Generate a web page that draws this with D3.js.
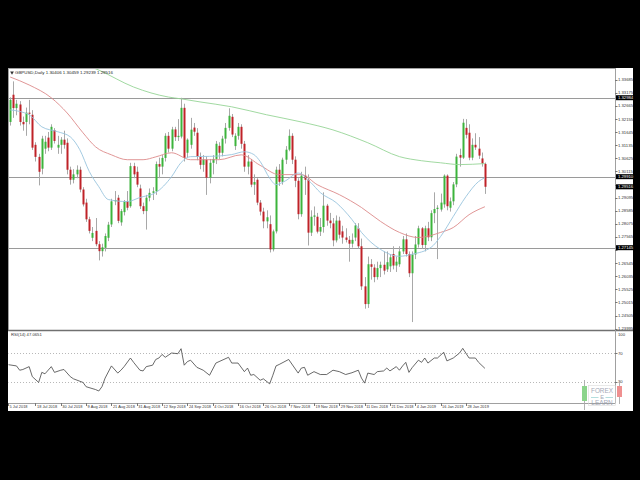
<!DOCTYPE html>
<html><head><meta charset="utf-8">
<script src="https://cdn.jsdelivr.net/npm/d3@7"></script>
<style>
html,body{margin:0;padding:0;background:#000;overflow:hidden}
svg{display:block}
text{font-family:"Liberation Sans",Arial,sans-serif;}
</style></head><body>
<svg id="c" width="640" height="480"></svg>
<script>
// ---------------- DATA ----------------
const chartTitle = "GBPUSD,Daily  1.30406 1.30459 1.29239 1.29516";
const rsiTitle = "RSI(14) 47.0651";

const opens = [1.3195,1.3204,1.3310,1.3258,1.3272,1.3204,1.3204,1.3240,1.3232,1.3115,
1.3068,1.3022,1.3100,1.3143,1.3104,1.3172,1.3104,1.3115,1.3135,1.3123,
1.3018,1.2979,1.3000,1.3018,1.2941,1.2890,1.2825,1.2753,1.2780,1.2728,
1.2701,1.2714,1.2753,1.2805,1.2895,1.2909,1.2813,1.2853,1.2895,1.2876,
1.3032,1.3010,1.2945,1.2876,1.2857,1.2909,1.2928,1.2934,1.3040,1.3030,
1.3064,1.3150,1.3100,1.3175,1.3145,1.3147,1.3259,1.3084,1.3115,1.3182,
1.3162,1.3068,1.3037,1.3057,1.2987,1.3045,1.3060,1.3111,1.3084,1.3139,
1.3181,1.3224,1.3110,1.3150,1.3185,1.3119,1.3030,1.3050,1.2960,1.2979,
1.2890,1.2855,1.2817,1.2806,1.2708,1.2778,1.3018,1.2971,1.3057,1.3096,
1.3150,1.3057,1.2975,1.2845,1.2995,1.2979,1.2773,1.2835,1.2835,1.2777,
1.2795,1.2878,1.2820,1.2809,1.2743,1.2820,1.2778,1.2754,1.2745,1.2730,
1.2754,1.2790,1.2720,1.2564,1.2495,1.2650,1.2637,1.2600,1.2635,1.2648,
1.2630,1.2642,1.2690,1.2645,1.2650,1.2700,1.2747,1.2690,1.2615,1.2688,
1.2727,1.2790,1.2725,1.2790,1.2755,1.2849,1.2865,1.2863,1.2883,1.2995,
1.2870,1.2895,1.2961,1.3075,1.3065,1.3181,1.3162,1.3065,1.3115,1.3100,
1.3062,1.30406];
const highs = [1.3240,1.3300,1.3362,1.3290,1.3285,1.3225,1.3260,1.3290,1.3250,1.3125,
1.3080,1.3150,1.3150,1.3165,1.3195,1.3180,1.3150,1.3145,1.3170,1.3140,
1.3030,1.3020,1.3035,1.3030,1.2950,1.2905,1.2835,1.2795,1.2830,1.2740,
1.2730,1.2770,1.2815,1.2905,1.2935,1.2920,1.2865,1.2900,1.2935,1.3045,
1.3045,1.3030,1.2960,1.2890,1.2920,1.2945,1.2950,1.3050,1.3065,1.3075,
1.3160,1.3165,1.3185,1.3185,1.3215,1.3298,1.3275,1.3140,1.3220,1.3200,
1.3180,1.3085,1.3075,1.3070,1.3060,1.3075,1.3130,1.3125,1.3150,1.3200,
1.3257,1.3235,1.3160,1.3200,1.3195,1.3130,1.3075,1.3060,1.3000,1.2985,
1.2900,1.2870,1.2860,1.2840,1.2785,1.3030,1.3040,1.3065,1.3110,1.3175,
1.3160,1.3070,1.2985,1.3010,1.3030,1.3000,1.2860,1.2875,1.2850,1.2830,
1.2930,1.2885,1.2850,1.2830,1.2840,1.2835,1.2800,1.2790,1.2760,1.2770,
1.2810,1.2810,1.2750,1.2600,1.2680,1.2670,1.2650,1.2660,1.2660,1.2700,
1.2700,1.2690,1.2720,1.2680,1.2720,1.2760,1.2770,1.2700,1.2700,1.2760,
1.2800,1.2795,1.2800,1.2815,1.2860,1.2930,1.2880,1.2925,1.3000,1.3000,
1.2910,1.2970,1.3080,1.3100,1.3216,1.3215,1.3195,1.3140,1.3160,1.3145,
1.3085,1.30459];
const lows = [1.3170,1.3190,1.3220,1.3230,1.3190,1.3170,1.3150,1.3195,1.3095,1.3050,
1.2957,1.3000,1.3080,1.3090,1.3095,1.3120,1.3080,1.3080,1.3100,1.3000,
1.2960,1.2965,1.2985,1.2930,1.2875,1.2815,1.2770,1.2740,1.2720,1.2665,
1.2680,1.2700,1.2740,1.2795,1.2880,1.2810,1.2800,1.2840,1.2860,1.2870,
1.2985,1.2950,1.2865,1.2845,1.2785,1.2895,1.2900,1.2920,1.2985,1.3000,
1.3050,1.3085,1.3090,1.3130,1.3130,1.3140,1.3050,1.3065,1.3100,1.3150,
1.3055,1.3020,1.3010,1.2920,1.2965,1.3000,1.3040,1.3060,1.3070,1.3120,
1.3170,1.3145,1.3095,1.3135,1.3100,1.3010,1.3000,1.2950,1.2920,1.2880,
1.2840,1.2790,1.2790,1.2696,1.2700,1.2770,1.2955,1.2960,1.3040,1.3090,
1.3040,1.2950,1.2825,1.2835,1.2920,1.2723,1.2760,1.2800,1.2770,1.2760,
1.2773,1.2800,1.2790,1.2720,1.2735,1.2750,1.2730,1.2735,1.2660,1.2715,
1.2740,1.2710,1.2550,1.2477,1.2480,1.2590,1.2580,1.2590,1.2600,1.2610,
1.2620,1.2620,1.2630,1.2620,1.2640,1.2690,1.2680,1.2600,1.2425,1.2670,
1.2715,1.2710,1.2700,1.2740,1.2740,1.2810,1.2670,1.2855,1.2870,1.2860,
1.2855,1.2880,1.2950,1.3030,1.3060,1.3140,1.3055,1.3055,1.3095,1.3060,
1.3030,1.29239];
const closes = [1.3225,1.3290,1.3258,1.3275,1.3204,1.3195,1.3240,1.3236,1.3104,1.3068,
1.3010,1.3139,1.3127,1.3104,1.3185,1.3130,1.3115,1.3135,1.3115,1.3018,
1.2979,1.3000,1.3018,1.2941,1.2883,1.2825,1.2780,1.2772,1.2728,1.2701,
1.2716,1.2760,1.2804,1.2895,1.2900,1.2819,1.2857,1.2895,1.2870,1.3032,
1.3000,1.2960,1.2876,1.2857,1.2909,1.2928,1.2934,1.3040,1.3030,1.3064,
1.3150,1.3100,1.3175,1.3145,1.3150,1.3259,1.3064,1.3135,1.3174,1.3166,
1.3068,1.3037,1.3057,1.2987,1.3045,1.3060,1.3119,1.3084,1.3139,1.3181,
1.3228,1.3155,1.3150,1.3185,1.3119,1.3030,1.3050,1.2960,1.2970,1.2890,
1.2855,1.2817,1.2833,1.2708,1.2778,1.3018,1.2971,1.3057,1.3096,1.3150,
1.3057,1.2975,1.2845,1.2995,1.2979,1.2773,1.2835,1.2840,1.2777,1.2795,
1.2878,1.2820,1.2810,1.2743,1.2820,1.2765,1.2754,1.2745,1.2730,1.2745,
1.2801,1.2720,1.2564,1.2495,1.2650,1.2640,1.2600,1.2635,1.2648,1.2625,
1.2658,1.2677,1.2645,1.2660,1.2700,1.2747,1.2690,1.2615,1.2688,1.2727,
1.2790,1.2725,1.2790,1.2755,1.2849,1.2865,1.2870,1.2890,1.2995,1.2876,
1.2895,1.2961,1.3069,1.3065,1.3201,1.3154,1.3065,1.3115,1.3105,1.3073,
1.3042,1.29516];

// moving averages: [bar, price]
const maFast = [[1,1.3251],[7,1.3232],[11,1.3185],[16,1.3166],[20,1.3146],[23,1.3096],[26,1.3011],[29,1.2952],[32,1.2902],[38,1.2894],[42,1.2910],[47,1.2929],[52,1.2991],[55,1.3046],[58,1.3069],[64,1.3070],[71,1.3077],[75,1.3088],[78,1.3077],[80,1.3050],[83,1.2985],[85,1.2960],[88,1.2975],[92,1.3005],[96,1.2968],[99,1.2929],[104,1.2890],[109,1.2824],[112,1.2774],[118,1.2708],[124,1.2681],[128,1.2689],[134,1.2716],[137,1.2758],[141,1.2836],[145,1.2913],[149,1.2972],[151,1.2987]];
const maMid = [[1,1.3379],[7,1.3348],[14,1.3298],[19,1.3239],[24,1.3162],[28,1.3107],[33,1.3076],[38,1.3057],[43,1.3057],[47,1.3068],[52,1.3084],[58,1.3057],[63,1.3057],[67,1.3057],[74,1.3076],[80,1.3035],[86,1.2999],[93,1.2999],[98,1.2960],[105,1.2921],[112,1.2871],[118,1.2817],[124,1.2774],[130,1.2754],[137,1.2774],[141,1.2793],[146,1.2843],[151,1.2874]];
const maSlow = [[0,1.3530],[15,1.3470],[29,1.3406],[40,1.3340],[51,1.3301],[55,1.3294],[61,1.3282],[71,1.3263],[82,1.3232],[93,1.3204],[103,1.3173],[114,1.3123],[124,1.3069],[131,1.3053],[137,1.3045],[143,1.3038],[151,1.3042]];

// horizontal levels
const hLevels = [1.32984, 1.29910, 1.27145];

// RSI: [bar, value]
const rsiPoints = [[0,54],[3,52],[4,46],[5,47],[7,51],[8,37],[10,29],[11,43],[12,41],[14,51],[15,43],[17,46],[18,47],[20,37],[21,34],[24,29],[25,23],[28,19],[29,17],[30,23],[31,35],[33,52],[35,42],[36,46],[37,51],[39,63],[40,57],[42,46],[43,45],[44,51],[46,53],[47,61],[48,63],[49,68],[50,64],[52,70],[54,69],[55,76],[56,53],[57,58],[58,60],[60,50],[62,46],[64,39],[66,56],[67,58],[70,64],[71,56],[73,56],[75,44],[76,49],[77,39],[78,40],[80,32],[81,34],[83,27],[84,39],[85,52],[86,54],[89,61],[92,42],[93,49],[94,50],[95,39],[97,44],[99,40],[101,40],[103,46],[105,44],[107,40],[109,42.5],[111,46],[112,35],[113,28],[114,42],[116,40],[117,44],[119,45],[120,49],[121,45],[123,51],[124,46],[125,52],[126,57],[127,43],[128,49.5],[130,60],[131,57],[132,63],[133,56],[135,63],[136,63],[138,71],[139,59],[141,63],[143,70],[144,76.5],[146,63],[148,63],[149,57],[151,48.6]];
const rsiLevels = [70, 30];
const rsiTickLabels = [100, 70, 30];

// axis labels
const priceTicks = [1.33685,1.33175,1.32665,1.32155,1.31645,1.31135,1.30625,1.30115,1.29605,1.29095,1.28585,1.28075,1.27565,1.27055,1.26545,1.26035,1.25525,1.25015,1.24505,1.23995];
const dateLabels = ["5 Jul 2018","18 Jul 2018","30 Jul 2018","9 Aug 2018","21 Aug 2018","31 Aug 2018","12 Sep 2018","24 Sep 2018","4 Oct 2018","16 Oct 2018","26 Oct 2018","7 Nov 2018","19 Nov 2018","29 Nov 2018","11 Dec 2018","21 Dec 2018","4 Jan 2019","16 Jan 2019","28 Jan 2019"];
const dateLabelBars = [0,9,17,25,33,41,49,57,65,73,81,89,97,105,113,121,129,137,145];

// ---------------- DRAW ----------------
const svg = d3.select("#c");
const P = {left:8, right:615, top:68.5, bottom:330.5, rsiTop:331.5, rsiBottom:403, panelRight:633, panelBottom:411};

const x = d3.scaleLinear().domain([0,151]).range([7, 484.9]);
const y = d3.scaleLinear().domain([1.23995,1.33685]).range([328.6,79.7]);
const yr = d3.scaleLinear().domain([0,100]).range([403.2,331.5]);

svg.append("rect").attr("x",P.left).attr("y",68).attr("width",P.panelRight-P.left).attr("height",P.panelBottom-68).attr("fill","#fff");

const defs = svg.append("defs");
defs.append("clipPath").attr("id","cm").append("rect").attr("x",P.left+0.5).attr("y",P.top).attr("width",P.right-P.left-0.5).attr("height",P.bottom-P.top-0.5);
defs.append("clipPath").attr("id","cr").append("rect").attr("x",P.left+0.5).attr("y",P.rsiTop).attr("width",P.right-P.left-0.5).attr("height",P.rsiBottom-P.rsiTop);

const main = svg.append("g").attr("clip-path","url(#cm)");

// horizontal levels
main.selectAll(".hl").data(hLevels).join("line")
  .attr("x1",P.left).attr("x2",P.right)
  .attr("y1",d=>Math.round(y(d))+0.5).attr("y2",d=>Math.round(y(d))+0.5)
  .attr("stroke","#9a9a9a").attr("stroke-width",1);

// candles
const bars = d3.range(closes.length);
main.selectAll(".wick").data(bars).join("line")
  .attr("x1",i=>Math.round(x(i))+0.5).attr("x2",i=>Math.round(x(i))+0.5)
  .attr("y1",i=>y(highs[i])).attr("y2",i=>y(lows[i]))
  .attr("stroke","#a8a8a8").attr("stroke-width",1);
main.selectAll(".body").data(bars).join("rect")
  .attr("x",i=>Math.round(x(i))-0.5).attr("width",2)
  .attr("y",i=>y(Math.max(opens[i],closes[i])))
  .attr("height",i=>Math.max(1, Math.abs(y(opens[i])-y(closes[i]))))
  .attr("fill",i=>closes[i]>=opens[i] ? "#3cb43c" : "#bf2228");

// moving averages
const maLine = d3.line().x(d=>x(d[0])).y(d=>y(d[1])).curve(d3.curveMonotoneX);
[[maSlow,"#96d596"],[maMid,"#dc8a8a"],[maFast,"#98c4de"]].forEach(([arr,col])=>{
  main.append("path").datum(arr).attr("d",maLine).attr("fill","none").attr("stroke",col).attr("stroke-width",0.9);
});

// frames
svg.append("rect").attr("x",P.left+0.5).attr("y",P.top).attr("width",P.right-P.left).attr("height",P.bottom-P.top)
  .attr("fill","none").attr("stroke","#a0a0a0").attr("stroke-width",1);
svg.append("line").attr("x1",P.left).attr("x2",P.panelRight).attr("y1",330.5).attr("y2",330.5).attr("stroke","#707070").attr("stroke-width",1.5);
svg.append("line").attr("x1",P.left).attr("x2",P.right).attr("y1",P.rsiBottom+0.5).attr("y2",P.rsiBottom+0.5).attr("stroke","#a0a0a0");
svg.append("line").attr("x1",P.right+0.5).attr("x2",P.right+0.5).attr("y1",P.top).attr("y2",P.rsiBottom+0.5).attr("stroke","#a0a0a0");

// title
svg.append("path").attr("d",d3.symbol(d3.symbolTriangle,6)()).attr("transform","translate(12,72.5) rotate(180)").attr("fill","#333");
svg.append("text").attr("x",15).attr("y",74.3).attr("font-size",4.4).attr("fill","#222").text(chartTitle);

// price axis (regular labels hidden where a highlighted label sits)
const hi = [...hLevels, closes[closes.length-1]];
const shownTicks = priceTicks.filter(t => hi.every(h => Math.abs(y(t)-y(h)) > 3.5));
const pa = svg.append("g");
pa.selectAll("line").data(priceTicks).join("line")
  .attr("x1",P.right).attr("x2",P.right+2.5).attr("y1",d=>Math.round(y(d))+0.5).attr("y2",d=>Math.round(y(d))+0.5)
  .attr("stroke","#777");
pa.selectAll("text").data(shownTicks).join("text")
  .attr("x",P.right+3).attr("y",d=>y(d)+1.5).attr("font-size",4.2).attr("fill","#333")
  .text(d=>d.toFixed(5));
const hg = svg.append("g");
hg.selectAll("rect").data(hi).join("rect")
  .attr("x",P.right+1).attr("y",d=>y(d)-2.5).attr("width",P.panelRight-P.right-1).attr("height",5).attr("fill","#000");
hg.selectAll("text").data(hi).join("text")
  .attr("x",P.right+3).attr("y",d=>y(d)+1.5).attr("font-size",4.2).attr("fill","#fff")
  .text(d=>d.toFixed(5));

// RSI window
const rg = svg.append("g").attr("clip-path","url(#cr)");
rg.selectAll(".lv").data(rsiLevels).join("line")
  .attr("x1",P.left).attr("x2",P.right).attr("y1",d=>Math.round(yr(d))+0.5).attr("y2",d=>Math.round(yr(d))+0.5)
  .attr("stroke","#b8b8b8").attr("stroke-dasharray","1,2");
rg.append("path").datum(rsiPoints)
  .attr("d",d3.line().x(d=>x(d[0])).y(d=>yr(d[1])))
  .attr("fill","none").attr("stroke","#444").attr("stroke-width",0.8);
svg.append("text").attr("x",11).attr("y",336).attr("font-size",4.2).attr("fill","#333").text(rsiTitle);
svg.selectAll(".rl").data(rsiTickLabels).join("text")
  .attr("x",P.right+3).attr("y",d=>Math.max(yr(d)+1.5,335.5)).attr("font-size",4.2).attr("fill","#333").text(d=>d);
svg.selectAll(".rt").data(rsiTickLabels.slice(1)).join("line")
  .attr("x1",P.right).attr("x2",P.right+2.5).attr("y1",d=>Math.round(yr(d))+0.5).attr("y2",d=>Math.round(yr(d))+0.5).attr("stroke","#777");

// time axis
const ta = svg.append("g");
ta.selectAll("line").data(dateLabelBars).join("line")
  .attr("x1",i=>Math.max(P.left+0.5,Math.round(x(i))+0.5)).attr("x2",i=>Math.max(P.left+0.5,Math.round(x(i))+0.5))
  .attr("y1",P.rsiBottom).attr("y2",P.rsiBottom+3).attr("stroke","#777");
ta.selectAll("text").data(dateLabels).join("text")
  .attr("x",(d,k)=>Math.max(P.left+1.5, x(dateLabelBars[k])+1.5)).attr("y",408.3)
  .attr("font-size",3.9).attr("fill","#333").text(d=>d);

// watermark logo
const lg = svg.append("g").attr("opacity",0.9);
lg.append("line").attr("x1",584.5).attr("x2",584.5).attr("y1",380).attr("y2",410).attr("stroke","#aaa");
lg.append("rect").attr("x",582).attr("y",386).attr("width",5).attr("height",15).attr("fill","#7fd07f");
lg.append("line").attr("x1",619.5).attr("x2",619.5).attr("y1",383).attr("y2",404).attr("stroke","#aaa");
lg.append("rect").attr("x",617).attr("y",386).attr("width",5).attr("height",11).attr("fill","#ee8585");
lg.append("rect").attr("x",588.5).attr("y",385.5).attr("width",27).attr("height",20).attr("fill","none").attr("stroke","#d8d8d8").attr("stroke-width",0.6);
lg.append("text").attr("x",602).attr("y",393).attr("text-anchor","middle").attr("font-size",6.4).attr("fill","#9aa0b0").text("FOREX");
lg.append("text").attr("x",602).attr("y",399.2).attr("text-anchor","middle").attr("font-size",5.6).attr("fill","#9aa0b0").text("E");
lg.append("line").attr("x1",591).attr("x2",598.5).attr("y1",397.5).attr("y2",397.5).attr("stroke","#8cc").attr("stroke-width",0.7);
lg.append("line").attr("x1",605.5).attr("x2",613).attr("y1",397.5).attr("y2",397.5).attr("stroke","#8cc").attr("stroke-width",0.7);
lg.append("text").attr("x",602).attr("y",405.2).attr("text-anchor","middle").attr("font-size",6.4).attr("fill","#9aa0b0").text("LEARN");
</script>
</body></html>
